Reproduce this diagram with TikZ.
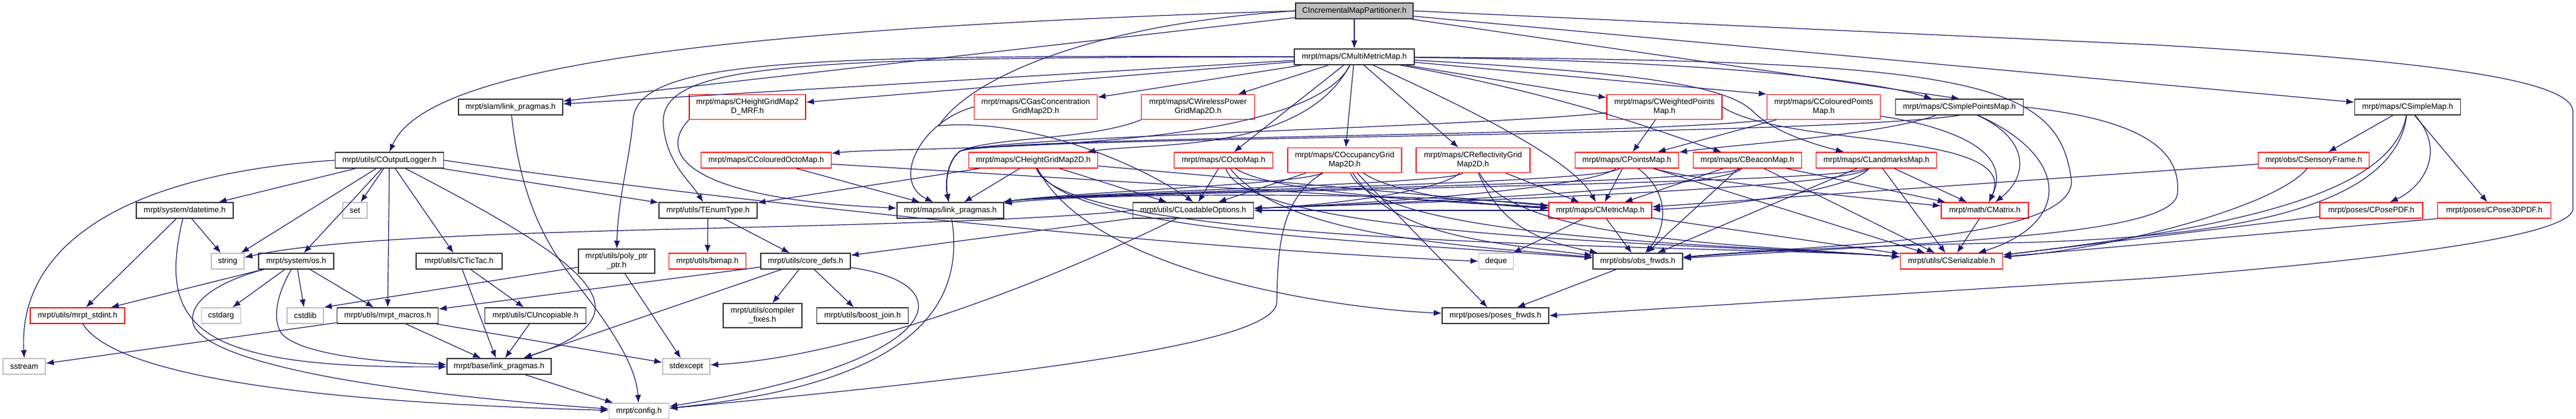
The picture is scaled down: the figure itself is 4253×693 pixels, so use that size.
\documentclass[tikz,border=0pt]{standalone}
\usepackage{fontspec}
\setmainfont{Liberation Sans}
\usetikzlibrary{arrows.meta}
\definecolor{depblue}{HTML}{191970}
\definecolor{sysgray}{HTML}{BFBFBF}
\definecolor{truncred}{HTML}{FF0000}
\begin{document}
\begin{tikzpicture}[x=1pt, y=-1pt, >={Latex[length=13pt,width=10pt]},
  hdr/.style={draw=black!80, line width=1.5pt, fill=white, inner sep=0pt,
    minimum height=26pt, align=center, font=\fontsize{13}{15}\selectfont},
  trunc/.style={hdr, draw=truncred},
  sys/.style={hdr, draw=sysgray},
  dep/.style={draw=depblue, line width=1.2pt, ->}]
\fill[white] (0,0) rectangle (4253,693);
\useasboundingbox (0,0) rectangle (4253,693);

\node[hdr, fill=sysgray, minimum width=194pt] (partitioner) at (2236,18) {CIncrementalMapPartitioner.h};
\node[hdr, minimum width=198pt] (multimetric) at (2236,94) {mrpt/maps/CMultiMetricMap.h};

\node[hdr, minimum width=172pt] (slamlp) at (843,177) {mrpt/slam/link\_pragmas.h};
\node[trunc, minimum width=192pt, minimum height=41pt] (mrf) at (1234,177) {mrpt/maps/CHeightGridMap2\\D\_MRF.h};
\node[trunc, minimum width=203pt, minimum height=41pt] (gas) at (1710,177) {mrpt/maps/CGasConcentration\\GridMap2D.h};
\node[trunc, minimum width=187pt, minimum height=41pt] (wireless) at (1978,177) {mrpt/maps/CWirelessPower\\GridMap2D.h};
\node[trunc, minimum width=190pt, minimum height=41pt] (weighted) at (2748,177) {mrpt/maps/CWeightedPoints\\Map.h};
\node[trunc, minimum width=187pt, minimum height=41pt] (coloured) at (3011,177) {mrpt/maps/CColouredPoints\\Map.h};
\node[hdr, minimum width=211pt] (simplepts) at (3235,177) {mrpt/maps/CSimplePointsMap.h};
\node[hdr, minimum width=175pt] (simplemap) at (3975,177) {mrpt/maps/CSimpleMap.h};

\node[hdr, minimum width=179pt] (outlog) at (643,265) {mrpt/utils/COutputLogger.h};
\node[trunc, minimum width=215pt] (colocto) at (1265,265) {mrpt/maps/CColouredOctoMap.h};
\node[trunc, minimum width=213pt] (hgm) at (1706,265) {mrpt/maps/CHeightGridMap2D.h};
\node[trunc, minimum width=163pt] (octo) at (2020,265) {mrpt/maps/COctoMap.h};
\node[trunc, minimum width=188pt, minimum height=41pt] (occ) at (2220,265) {mrpt/maps/COccupancyGrid\\Map2D.h};
\node[trunc, minimum width=188pt, minimum height=41pt] (refl) at (2432,265) {mrpt/maps/CReflectivityGrid\\Map2D.h};
\node[trunc, minimum width=171pt] (points) at (2686,265) {mrpt/maps/CPointsMap.h};
\node[trunc, minimum width=179pt] (beacon) at (2885,265) {mrpt/maps/CBeaconMap.h};
\node[trunc, minimum width=199pt] (landmarks) at (3098,265) {mrpt/maps/CLandmarksMap.h};
\node[trunc, minimum width=183pt] (sensory) at (3820,265) {mrpt/obs/CSensoryFrame.h};

\node[hdr, minimum width=160pt] (datetime) at (305,348) {mrpt/system/datetime.h};
\node[sys, minimum width=40pt] (set) at (586,348) {set};
\node[hdr, minimum width=162pt] (enumtype) at (1169,348) {mrpt/utils/TEnumType.h};
\node[hdr, minimum width=176pt] (mapslp) at (1569,348) {mrpt/maps/link\_pragmas.h};
\node[hdr, minimum width=199pt] (loadable) at (1970,348) {mrpt/utils/CLoadableOptions.h};
\node[trunc, minimum width=170pt] (metric) at (2642,348) {mrpt/maps/CMetricMap.h};
\node[trunc, minimum width=144pt] (matrix) at (3277,348) {mrpt/math/CMatrix.h};
\node[trunc, minimum width=170pt] (posepdf) at (3915,348) {mrpt/poses/CPosePDF.h};
\node[trunc, minimum width=187pt] (posethree) at (4118,348) {mrpt/poses/CPose3DPDF.h};

\node[sys, minimum width=54pt] (string) at (376,432) {string};
\node[hdr, minimum width=124pt] (os) at (489,432) {mrpt/system/os.h};
\node[hdr, minimum width=142pt] (tictac) at (758,432) {mrpt/utils/CTicTac.h};
\node[hdr, minimum width=126pt, minimum height=40pt] (polyptr) at (1018,432) {mrpt/utils/poly\_ptr\\\_ptr.h};
\node[trunc, minimum width=127pt] (bimap) at (1168,432) {mrpt/utils/bimap.h};
\node[hdr, minimum width=148pt] (coredefs) at (1330,432) {mrpt/utils/core\_defs.h};
\node[sys, minimum width=57pt] (deque) at (2470,432) {deque};
\node[hdr, minimum width=148pt] (obsfrwds) at (2704,432) {mrpt/obs/obs\_frwds.h};
\node[trunc, minimum width=169pt] (serializable) at (3222,432) {mrpt/utils/CSerializable.h};

\node[trunc, minimum width=156pt] (stdint) at (128,522) {mrpt/utils/mrpt\_stdint.h};
\node[sys, minimum width=65pt] (cstdarg) at (365,522) {cstdarg};
\node[sys, minimum width=60pt] (cstdlib) at (504,522) {cstdlib};
\node[hdr, minimum width=167pt] (macros) at (640,522) {mrpt/utils/mrpt\_macros.h};
\node[hdr, minimum width=167pt] (uncopiable) at (884,522) {mrpt/utils/CUncopiable.h};
\node[hdr, minimum width=130pt, minimum height=40pt] (compiler) at (1259,522) {mrpt/utils/compiler\\\_fixes.h};
\node[hdr, minimum width=151pt] (boostjoin) at (1424,522) {mrpt/utils/boost\_join.h};
\node[hdr, minimum width=176pt] (posesfrwds) at (2469,522) {mrpt/poses/poses\_frwds.h};

\node[sys, minimum width=70pt] (sstream) at (40,606) {sstream};
\node[hdr, minimum width=172pt] (baselp) at (824,606) {mrpt/base/link\_pragmas.h};
\node[sys, minimum width=78pt] (stdexcept) at (1133,606) {stdexcept};
\node[sys, minimum width=99pt] (config) at (1055,680) {mrpt/config.h};

\foreach \dst in {multimetric,slamlp,simplemap}
  \draw[dep] (partitioner) -- (\dst);
\draw[dep] (partitioner) -- (simplepts.north);
\draw[dep] (partitioner.west) .. controls (1100,50) and (700,120) .. (outlog.north);
\draw[dep] (partitioner.west) .. controls (1800,40) and (1600,130) .. (1550,208)
  .. controls (1700,195) and (1880,270) .. (loadable.north);
\draw[dep] (partitioner.east) -- (3553,74) .. controls (4000,100) and (4248,130) .. (4248,185)
  -- (4248,345) .. controls (4248,400) and (3800,440) .. (3553,460) -- (posesfrwds.east);

\foreach \dst in {slamlp,mrf,gas,wireless,octo,occ,refl,weighted}
  \draw[dep] (multimetric) -- (\dst);
\draw[dep] (multimetric) -- (coloured.north west);
\draw[dep] (multimetric) .. controls (2150,255) and (1900,235) .. (hgm);
\draw[dep] (multimetric) .. controls (2150,260) and (1500,240) .. (colocto);
\draw[dep] (multimetric) .. controls (2800,100) and (3080,130) .. (simplepts);
\draw[dep] (multimetric) .. controls (2450,190) and (2600,270) .. (metric);
\draw[dep] (multimetric) .. controls (2600,160) and (2760,225) .. (beacon);
\draw[dep] (multimetric) .. controls (2700,120) and (2850,140) .. (2895,185)
  .. controls (2930,220) and (3000,240) .. (landmarks);
\draw[dep] (multimetric.west) .. controls (1300,95) and (1090,105) .. (1095,205)
  .. controls (1100,270) and (1140,300) .. (enumtype);
\draw[dep] (multimetric.west) .. controls (1300,90) and (1050,100) .. (1045,200)
  .. controls (1040,260) and (1020,330) .. (polyptr);
\draw[dep] (multimetric) .. controls (3250,100) and (3400,130) .. (3420,300)
  .. controls (3420,400) and (3000,405) .. (obsfrwds);

\foreach \dst in {datetime,string,os,set,macros,tictac,enumtype}
  \draw[dep] (outlog) -- (\dst);
\draw[dep] (outlog.west) .. controls (180,290) and (30,420) .. (sstream.north);
\draw[dep] (outlog) .. controls (980,440) and (1080,520) .. (baselp);
\draw[dep] (outlog.east) .. controls (1100,320) and (1900,410) .. (deque.west);

\draw[dep] (slamlp) .. controls (860,330) and (900,400) .. (945,460)
  .. controls (1000,530) and (1050,600) .. (config);
\draw[dep] (mrf.south west) .. controls (1080,260) and (1150,330) .. (mapslp);
\draw[dep] (gas.west) .. controls (1520,200) and (1470,300) .. (mapslp);
\foreach \src/\cx/\cy in {wireless.south west/1800/232, weighted/2400/212,
    coloured.south west/2700/225, simplepts.south/3000/226}
  \draw[dep] (\src) .. controls (\cx,\cy) and (1640,226) .. (1585,250)
    .. controls (1565,265) and (1560,300) .. (mapslp);
\foreach \src/\cx in {occ/2150, refl/2400, points/2650, beacon/2850, landmarks/3050}
  \draw[dep] (\src) .. controls (\cx,305) and (1760,318) .. (mapslp);
\foreach \src in {colocto,hgm}
  \draw[dep] (\src) -- (mapslp);
\draw[dep] (metric) .. controls (2350,318) and (1800,318) .. (mapslp);

\foreach \src in {hgm,octo,occ,metric}
  \draw[dep] (\src) -- (loadable);
\foreach \src/\cx in {refl/2380, points/2620, beacon/2850, landmarks/3050}
  \draw[dep] (\src) .. controls (\cx,315) and (2200,340) .. (loadable);

\foreach \src in {colocto,hgm,refl,points,beacon,sensory}
  \draw[dep] (\src) -- (metric);
\draw[dep] (octo) .. controls (2100,320) and (2400,335) .. (metric);
\draw[dep] (occ) .. controls (2300,320) and (2450,340) .. (metric);
\draw[dep] (landmarks) .. controls (3050,320) and (2800,345) .. (metric);

\foreach \src in {metric,beacon,landmarks}
  \draw[dep] (\src) -- (obsfrwds);
\draw[dep] (points) .. controls (2760,320) and (2750,380) .. (obsfrwds);
\draw[dep] (hgm) .. controls (1760,380) and (2200,395) .. (obsfrwds);
\draw[dep] (octo) .. controls (2120,390) and (2400,405) .. (obsfrwds);
\draw[dep] (occ) .. controls (2300,390) and (2450,400) .. (obsfrwds);
\draw[dep] (refl) .. controls (2480,380) and (2550,400) .. (obsfrwds);
\draw[dep] (simplepts.east) .. controls (3560,200) and (3600,260) .. (3595,320)
  .. controls (3590,390) and (3200,400) .. (obsfrwds);
\draw[dep] (simplemap) .. controls (3955,340) and (3700,395) .. (3300,402)
  .. controls (3000,408) and (2850,420) .. (obsfrwds);

\foreach \src in {metric,matrix,points,beacon,landmarks,posepdf}
  \draw[dep] (\src) -- (serializable);
\draw[dep] (posethree.south west) -- (serializable);
\foreach \src/\cx/\cy in {hgm/1760/415, octo/2060/400, occ/2280/400, refl/2500/400}
  \draw[dep] (\src) .. controls (\cx,\cy) and (2900,405) .. (serializable);
\draw[dep] (simplepts) .. controls (3420,260) and (3420,370) .. (serializable);
\draw[dep] (simplemap) .. controls (3950,330) and (3650,380) .. (serializable);
\draw[dep] (sensory) .. controls (3760,340) and (3500,410) .. (serializable);

\foreach \src in {beacon,landmarks}
  \draw[dep] (\src) -- (matrix);
\draw[dep] (points) .. controls (2800,300) and (3100,330) .. (matrix);
\draw[dep] (weighted.east) .. controls (2950,245) and (3340,215) .. (matrix);
\draw[dep] (coloured) .. controls (3250,215) and (3320,260) .. (matrix);
\draw[dep] (simplepts) .. controls (3350,230) and (3350,290) .. (matrix);

\foreach \src in {weighted,coloured}
  \draw[dep] (\src) -- (points);
\draw[dep] (simplepts) .. controls (3100,225) and (2850,240) .. (points);

\foreach \dst in {sensory,posethree}
  \draw[dep] (simplemap) -- (\dst);
\draw[dep] (simplemap) .. controls (4040,250) and (4000,310) .. (posepdf);
\draw[dep] (hgm) -- (enumtype);
\draw[dep] (hgm) .. controls (1800,450) and (2200,510) .. (posesfrwds);
\draw[dep] (occ) -- (posesfrwds);
\draw[dep] (obsfrwds) -- (posesfrwds);
\draw[dep] (metric) -- (deque);

\foreach \dst in {bimap,coredefs}
  \draw[dep] (enumtype) -- (\dst);
\foreach \dst in {macros,baselp,compiler,boostjoin}
  \draw[dep] (coredefs) -- (\dst);
\draw[dep] (coredefs) .. controls (1600,470) and (1560,600) .. (config);
\draw[dep] (loadable) -- (coredefs);
\draw[dep] (loadable.west) .. controls (1500,385) and (650,370) .. (string);
\draw[dep] (loadable) .. controls (1700,480) and (1400,590) .. (stdexcept);
\draw[dep] (polyptr) -- (cstdlib.north east);
\draw[dep] (polyptr) -- (stdexcept);
\foreach \dst in {baselp,uncopiable}
  \draw[dep] (tictac) -- (\dst);
\draw[dep] (uncopiable) -- (baselp);

\foreach \dst in {stdint,string}
  \draw[dep] (datetime) -- (\dst);
\draw[dep] (datetime) .. controls (260,540) and (320,610) .. (baselp);
\foreach \dst in {stdint,cstdarg,cstdlib,macros}
  \draw[dep] (os) -- (\dst);
\draw[dep] (os) .. controls (455,490) and (450,530) .. (465,552)
  .. controls (500,590) and (650,600) .. (baselp);
\draw[dep] (os) .. controls (380,460) and (315,490) .. (318,530)
  .. controls (320,580) and (500,640) .. (config);
\foreach \dst in {sstream,baselp,stdexcept}
  \draw[dep] (macros) -- (\dst);
\draw[dep] (stdint) .. controls (190,620) and (500,665) .. (config);
\draw[dep] (baselp) -- (config);
\draw[dep] (mapslp) .. controls (1600,540) and (1450,640) .. (config);
\draw[dep] (occ) .. controls (2110,330) and (2110,420) .. (2108,500)
  .. controls (2105,560) and (1800,610) .. (config);
\end{tikzpicture}
\end{document}
